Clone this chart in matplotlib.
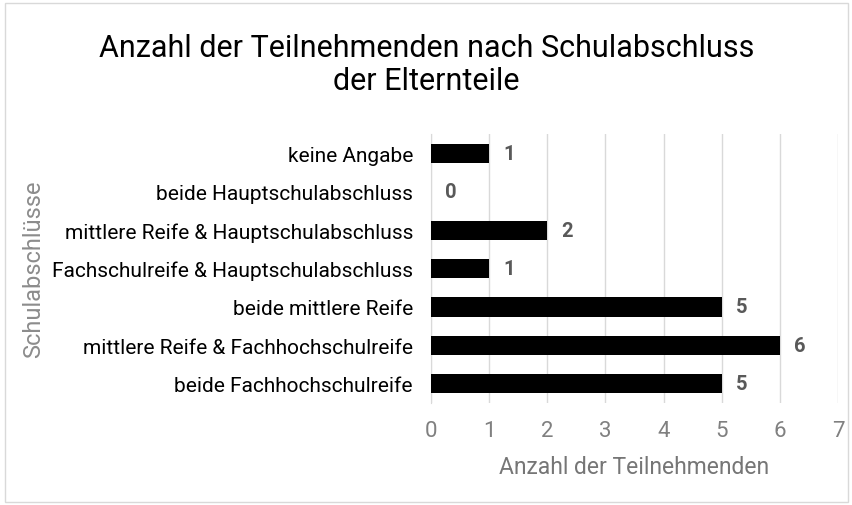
import matplotlib.pyplot as plt
from matplotlib.patches import Rectangle

categories = ['beide Fachhochschulreife',
              'mittlere Reife & Fachhochschulreife',
              'beide mittlere Reife',
              'Fachschulreife & Hauptschulabschluss',
              'mittlere Reife & Hauptschulabschluss',
              'beide Hauptschulabschluss',
              'keine Angabe']
values = [5, 6, 5, 1, 2, 0, 1]
xticks = [0, 1, 2, 3, 4, 5, 6, 7]

plt.rcParams['font.family'] = ['Roboto', 'DejaVu Sans']

fig = plt.figure(figsize=(8.53, 5.06), dpi=100)
ax = fig.add_axes([0.5053, 0.2016, 0.4771, 0.5314])

ypos = list(range(len(categories)))
ax.barh(ypos, values, height=0.5, color='black', zorder=3)
for y, v in zip(ypos, values):
    ax.text(v + 0.24, y, str(v), va='center', ha='left', fontsize=14.5,
            fontweight='bold', color='#595959')

ax.set_xlim(0, 7)
ax.set_ylim(-0.5, len(categories) - 0.5)
ax.set_xticks(xticks)
ax.set_yticks(ypos)
ax.set_yticklabels(categories, fontsize=15, color='black')
ax.tick_params(axis='x', labelsize=16, colors='#808080', length=0, pad=12)
ax.tick_params(axis='y', length=0, pad=13)
ax.grid(axis='x', color='#d9d9d9', linewidth=1, zorder=0)
for s in ['top', 'right', 'bottom']:
    ax.spines[s].set_visible(False)
ax.spines['left'].set_color('#d9d9d9')

ax.set_xlabel('Anzahl der Teilnehmenden', fontsize=16.5, color='#767676', labelpad=10)
fig.text(0.039, 0.4675, 'Schulabschlüsse', rotation=90, ha='center', va='center',
         fontsize=17, color='#8c8c8c')

fig.text(0.5, 0.905, 'Anzahl der Teilnehmenden nach Schulabschluss', ha='center',
         va='center', fontsize=22, color='black')
fig.text(0.5, 0.838, 'der Elternteile', ha='center', va='center', fontsize=22,
         color='black')

fig.patches.append(Rectangle((0.006, 0.006), 0.988, 0.986, transform=fig.transFigure,
                             fill=False, edgecolor='#d9d9d9', linewidth=1))

plt.savefig('out.png', dpi=100)
